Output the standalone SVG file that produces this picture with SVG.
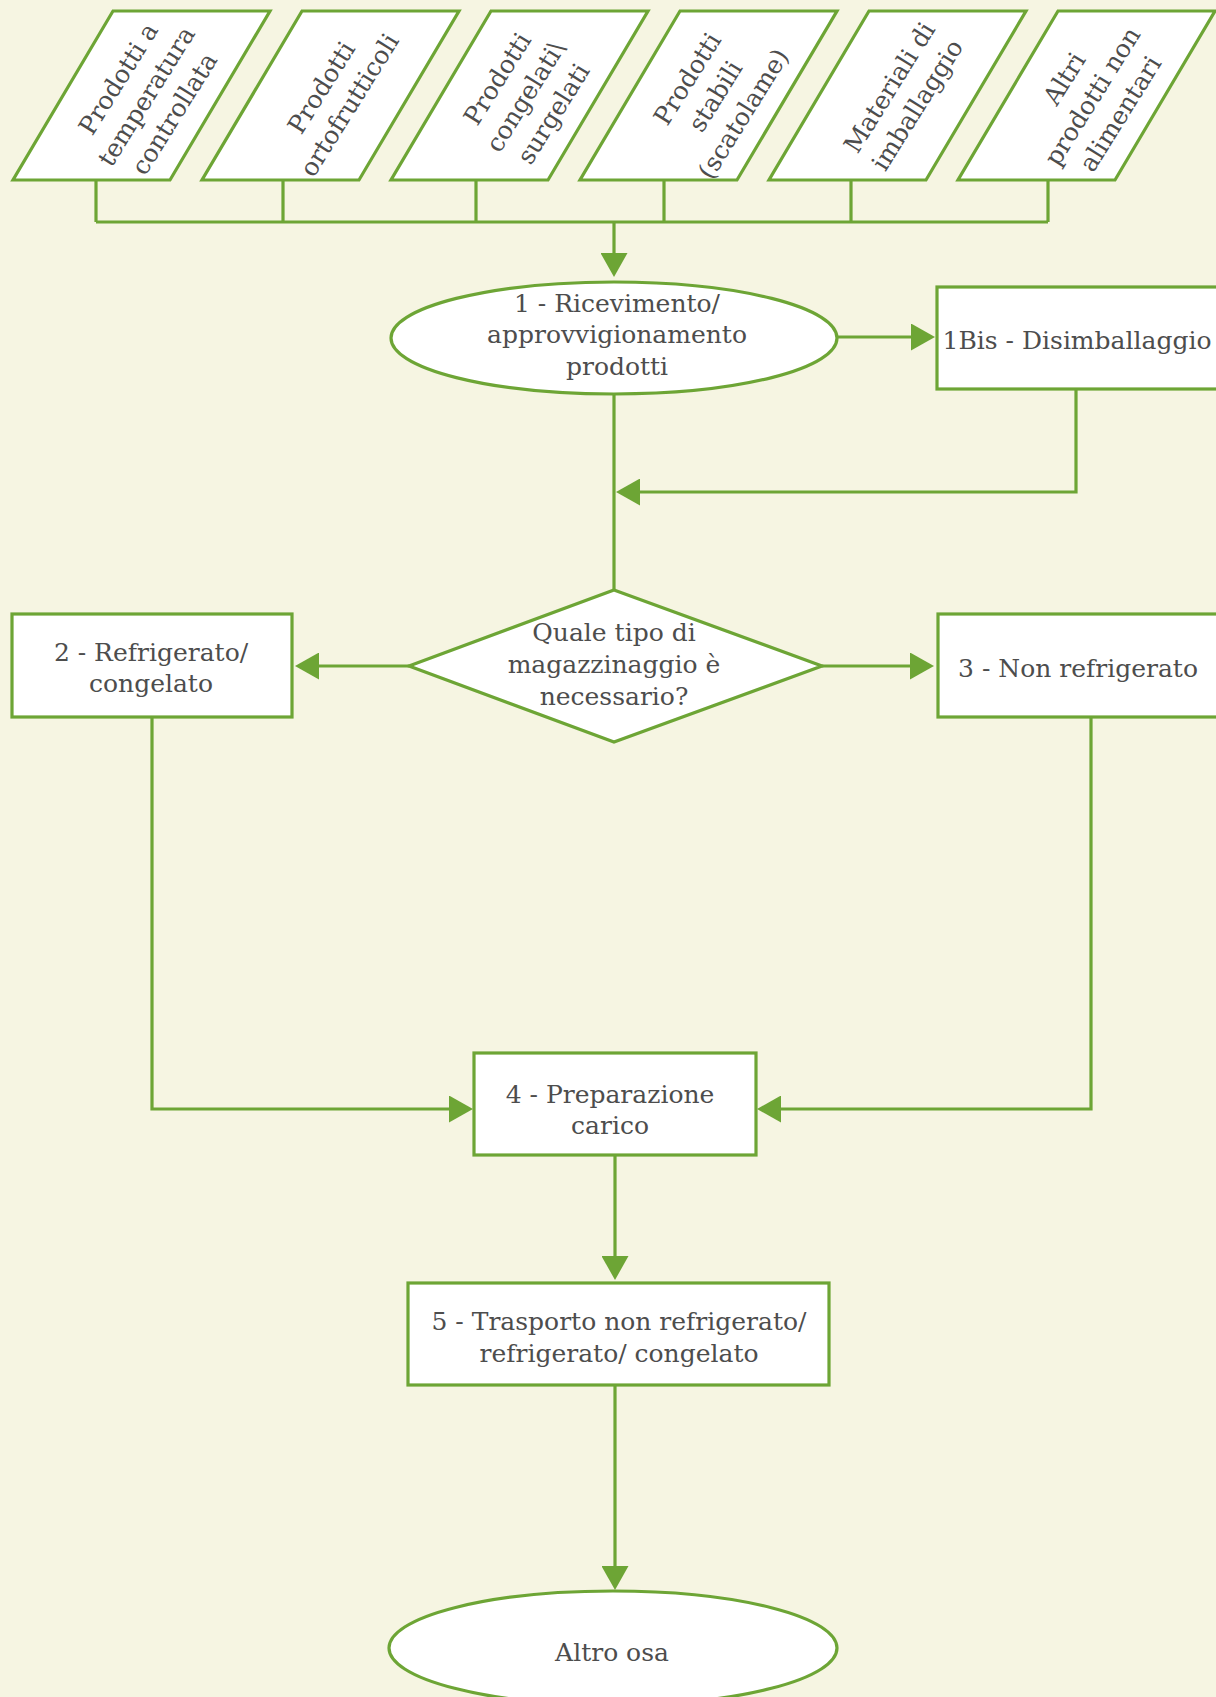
<svg xmlns="http://www.w3.org/2000/svg" width="1216" height="1697" viewBox="0 0 1216 1697">
  <style>
    .shape { fill: #ffffff; stroke: #6da535; stroke-width: 3.2; }
    .wire { fill: none; stroke: #6da535; stroke-width: 3.2; }
    .t { font-family: "DejaVu Serif", "Liberation Serif", serif; font-size: 25px; fill: #4d4d4d; text-anchor: middle; }
  </style>
  <defs>
    <marker id="arrow" viewBox="0 0 24 27" refX="0" refY="13.5" markerWidth="24" markerHeight="27" markerUnits="userSpaceOnUse" orient="auto">
      <path d="M0,0 L24,13.5 L0,27 z" fill="#6da535"/>
    </marker>
  </defs>

  <rect x="0" y="0" width="1216" height="1697" fill="#f6f5e2"/>

  <!-- connectors -->
  <g id="connectors">
    <path class="wire" d="M96,180 V222"/>
    <path class="wire" d="M283,180 V222"/>
    <path class="wire" d="M476,180 V222"/>
    <path class="wire" d="M664,180 V222"/>
    <path class="wire" d="M851,180 V222"/>
    <path class="wire" d="M1048,180 V222"/>
    <path class="wire" d="M96,222 H1048"/>
    <path class="wire" d="M614,222 V253" marker-end="url(#arrow)"/>
    <path class="wire" d="M837,337 H911" marker-end="url(#arrow)"/>
    <path class="wire" d="M1076,389 V492 H640" marker-end="url(#arrow)"/>
    <path class="wire" d="M614,394 V590"/>
    <path class="wire" d="M409,666 H319" marker-end="url(#arrow)"/>
    <path class="wire" d="M822,666 H910" marker-end="url(#arrow)"/>
    <path class="wire" d="M152,717 V1109 H449" marker-end="url(#arrow)"/>
    <path class="wire" d="M1091,717 V1109 H781" marker-end="url(#arrow)"/>
    <path class="wire" d="M615,1155 V1256" marker-end="url(#arrow)"/>
    <path class="wire" d="M615,1385 V1566" marker-end="url(#arrow)"/>
  </g>

  <!-- input parallelograms -->
  <g id="in-temperatura">
    <polygon class="shape" points="113,11 270,11 170,180 13,180"/>
    <g transform="translate(146,96) rotate(-58)">
      <text class="t"><tspan x="0" y="-24">Prodotti a</tspan><tspan x="0" y="9">temperatura</tspan><tspan x="0" y="42">controllata</tspan></text>
    </g>
  </g>
  <g id="in-ortofrutticoli">
    <polygon class="shape" points="302,11 459,11 359,180 202,180"/>
    <g transform="translate(335,96) rotate(-58)">
      <text class="t"><tspan x="0" y="-7.5">Prodotti</tspan><tspan x="0" y="25.5">ortofrutticoli</tspan></text>
    </g>
  </g>
  <g id="in-congelati">
    <polygon class="shape" points="491,11 648,11 548,180 391,180"/>
    <g transform="translate(525,96) rotate(-58)">
      <text class="t"><tspan x="0" y="-24">Prodotti</tspan><tspan x="0" y="9">congelati\</tspan><tspan x="0" y="42">surgelati</tspan></text>
    </g>
  </g>
  <g id="in-stabili">
    <polygon class="shape" points="680,11 837,11 737,180 580,180"/>
    <g transform="translate(715,96) rotate(-58)">
      <text class="t"><tspan x="0" y="-24">Prodotti</tspan><tspan x="0" y="9">stabili</tspan><tspan x="0" y="42">(scatolame)</tspan></text>
    </g>
  </g>
  <g id="in-imballaggio">
    <polygon class="shape" points="869,11 1026,11 926,180 769,180"/>
    <g transform="translate(903,96) rotate(-58)">
      <text class="t"><tspan x="0" y="-7.5">Materiali di</tspan><tspan x="0" y="25.5">imballaggio</tspan></text>
    </g>
  </g>
  <g id="in-non-alimentari">
    <polygon class="shape" points="1058,11 1215,11 1115,180 958,180"/>
    <g transform="translate(1092,96) rotate(-58)">
      <text class="t"><tspan x="0" y="-24">Altri</tspan><tspan x="0" y="9">prodotti non</tspan><tspan x="0" y="42">alimentari</tspan></text>
    </g>
  </g>

  <!-- process steps -->
  <g id="step-1">
    <ellipse class="shape" cx="614" cy="338" rx="223" ry="56"/>
    <text class="t"><tspan x="617" y="312">1 - Ricevimento/</tspan><tspan x="617" y="343">approvvigionamento</tspan><tspan x="617" y="375">prodotti</tspan></text>
  </g>
  <g id="step-1bis">
    <rect class="shape" x="937" y="287" width="282" height="102"/>
    <text class="t" x="1077" y="349">1Bis - Disimballaggio</text>
  </g>
  <g id="decision">
    <polygon class="shape" points="614,590 822,666 614,742 409,666"/>
    <text class="t"><tspan x="614" y="641">Quale tipo di</tspan><tspan x="614" y="673">magazzinaggio è</tspan><tspan x="614" y="705">necessario?</tspan></text>
  </g>
  <g id="step-2">
    <rect class="shape" x="12" y="614" width="280" height="103"/>
    <text class="t"><tspan x="151" y="661">2 - Refrigerato/</tspan><tspan x="151" y="692">congelato</tspan></text>
  </g>
  <g id="step-3">
    <rect class="shape" x="938" y="614" width="282" height="103"/>
    <text class="t" x="1078" y="677">3 - Non refrigerato</text>
  </g>
  <g id="step-4">
    <rect class="shape" x="474" y="1053" width="282" height="102"/>
    <text class="t"><tspan x="610" y="1103">4 - Preparazione</tspan><tspan x="610" y="1134">carico</tspan></text>
  </g>
  <g id="step-5">
    <rect class="shape" x="408" y="1283" width="421" height="102"/>
    <text class="t"><tspan x="619" y="1330">5 - Trasporto non refrigerato/</tspan><tspan x="619" y="1362">refrigerato/ congelato</tspan></text>
  </g>
  <g id="end">
    <ellipse class="shape" cx="613" cy="1648" rx="224" ry="57"/>
    <text class="t" x="612" y="1661">Altro osa</text>
  </g>
</svg>
